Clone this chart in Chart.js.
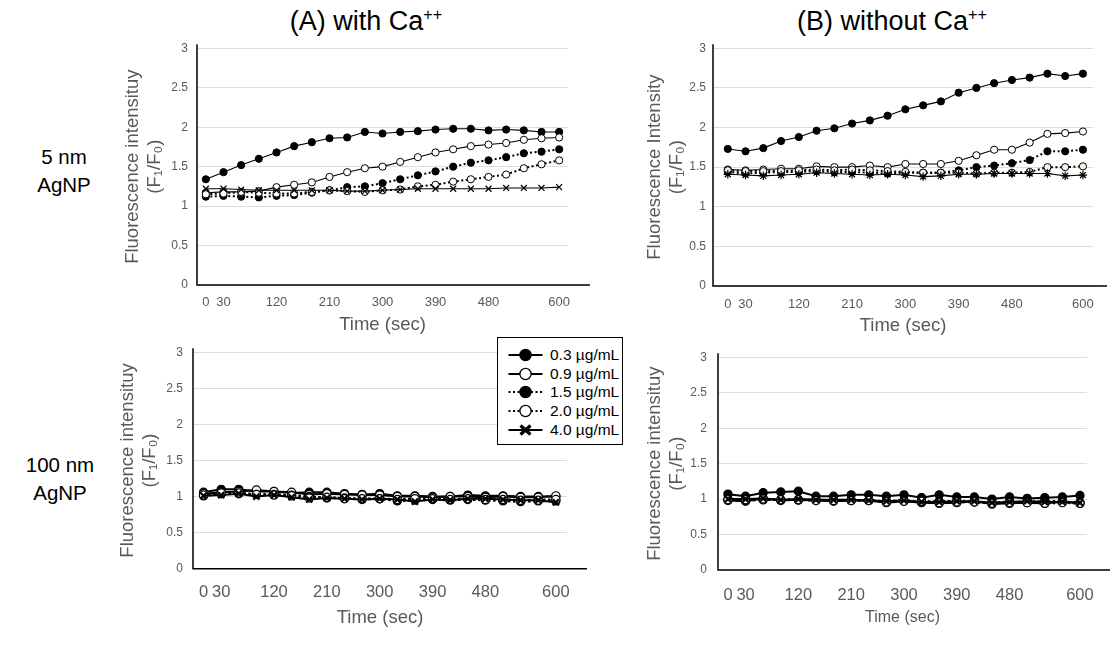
<!DOCTYPE html>
<html><head><meta charset="utf-8">
<script src="https://cdn.jsdelivr.net/npm/chart.js@4.4.1/dist/chart.umd.min.js"></script>
<style>
body{margin:0;background:#fff;width:1112px;height:645px;overflow:hidden;position:relative;font-family:"Liberation Sans",Arial,sans-serif;}
.ptitle{position:absolute;font-size:27px;color:#000;transform:translateX(-50%);white-space:nowrap;line-height:27px;}
.ptitle sup{font-size:60%;line-height:0;vertical-align:super;}
.rowlab{position:absolute;font-size:20.5px;color:#000;text-align:center;line-height:28px;width:120px;}
canvas{position:absolute;}
#legend{position:absolute;left:497px;top:337px;width:126px;height:108px;border:1px solid #000;background:#fff;box-sizing:border-box;}
.lrow{position:absolute;left:0;height:18px;}
.lrow svg{position:absolute;left:10px;top:0;}
.lrow span{position:absolute;left:52px;top:0;font-size:15.5px;line-height:18px;color:#000;white-space:nowrap;}
</style></head>
<body>
<div class="ptitle" style="left:366px;top:8px;">(A) with Ca<sup>++</sup></div>
<div class="ptitle" style="left:892px;top:8px;">(B) without Ca<sup>++</sup></div>
<div class="rowlab" style="left:4px;top:143px;">5 nm<br>AgNP</div>
<div class="rowlab" style="left:0px;top:451px;">100 nm<br>AgNP</div>
<canvas id="cA"></canvas>
<canvas id="cB"></canvas>
<canvas id="cC"></canvas>
<canvas id="cD"></canvas>
<div id="legend"></div>
<script>
// ---- data ----
const times = [0,30,60,90,120,150,180,210,240,270,300,330,360,390,420,450,480,510,540,570,600];
const xTicks = [0,30,120,210,300,390,480,600];
const xTickLabels = ['0','30','120','210','300','390','480','600'];
const yTicks = [0,0.5,1,1.5,2,2.5,3];
const yTickLabels = ['0','0.5','1','1.5','2','2.5','3'];
const seriesNames = ['0.3 \u00b5g/mL','0.9 \u00b5g/mL','1.5 \u00b5g/mL','2.0 \u00b5g/mL','4.0 \u00b5g/mL'];

// (A) with Ca++, 5 nm
const a03 = [1.34,1.43,1.52,1.60,1.68,1.76,1.81,1.86,1.87,1.94,1.92,1.94,1.95,1.97,1.98,1.98,1.96,1.97,1.96,1.94,1.94];
const a09 = [1.17,1.18,1.18,1.19,1.24,1.27,1.30,1.37,1.43,1.48,1.50,1.56,1.62,1.68,1.72,1.76,1.78,1.80,1.84,1.86,1.87];
const a15 = [1.12,1.13,1.12,1.11,1.13,1.14,1.17,1.20,1.24,1.25,1.29,1.34,1.39,1.44,1.50,1.55,1.58,1.62,1.67,1.69,1.72];
const a20 = [1.15,1.16,1.18,1.17,1.16,1.16,1.18,1.20,1.19,1.18,1.20,1.21,1.25,1.27,1.31,1.34,1.37,1.40,1.48,1.53,1.58];
const a40 = [1.22,1.22,1.21,1.20,1.20,1.20,1.20,1.20,1.19,1.19,1.20,1.21,1.22,1.22,1.22,1.22,1.22,1.23,1.23,1.23,1.24];
// (B) without Ca++, 5 nm
const b03 = [1.73,1.70,1.74,1.83,1.88,1.96,1.99,2.05,2.09,2.15,2.23,2.28,2.33,2.44,2.50,2.56,2.60,2.63,2.68,2.65,2.68];
const b09 = [1.47,1.46,1.47,1.48,1.48,1.51,1.50,1.50,1.52,1.50,1.54,1.54,1.54,1.58,1.65,1.72,1.72,1.81,1.92,1.93,1.95];
const b15 = [1.44,1.42,1.43,1.44,1.44,1.45,1.44,1.44,1.43,1.42,1.43,1.43,1.43,1.46,1.50,1.52,1.55,1.59,1.70,1.70,1.72];
const b20 = [1.46,1.45,1.45,1.45,1.46,1.47,1.46,1.47,1.46,1.45,1.44,1.43,1.43,1.43,1.42,1.43,1.43,1.44,1.50,1.50,1.51];
const b40 = [1.41,1.40,1.39,1.40,1.41,1.43,1.42,1.41,1.40,1.41,1.40,1.38,1.39,1.41,1.41,1.42,1.42,1.42,1.42,1.39,1.40];
// (A) with Ca++, 100 nm
const c03 = [1.06,1.10,1.10,1.07,1.07,1.05,1.06,1.06,1.04,1.03,1.04,1.01,1.01,1.00,1.00,1.02,1.01,1.01,1.00,1.00,1.00];
const c09 = [1.04,1.06,1.07,1.09,1.07,1.06,1.03,1.04,1.03,1.02,1.02,1.00,1.00,0.99,1.00,1.00,0.99,1.00,0.99,0.99,1.01];
const c15 = [1.01,1.04,1.04,1.03,1.03,1.02,1.00,0.98,0.98,0.96,0.97,0.94,0.95,0.96,0.95,0.96,0.95,0.94,0.93,0.94,0.94];
const c20 = [1.02,1.05,1.05,1.03,1.02,1.01,0.98,0.99,0.97,0.97,0.97,0.96,0.97,0.97,0.96,0.97,0.96,0.96,0.95,0.95,0.96];
const c40 = [1.01,1.02,1.04,1.00,1.02,0.99,0.96,0.98,0.97,0.96,0.97,0.96,0.93,0.96,0.95,0.97,0.97,0.96,0.95,0.95,0.92];
// (B) without Ca++, 100 nm
const d03 = [1.07,1.04,1.09,1.10,1.11,1.04,1.04,1.06,1.06,1.04,1.06,1.02,1.06,1.03,1.03,1.00,1.03,1.01,1.02,1.03,1.05];
const d09 = [0.98,0.97,1.01,0.98,0.99,0.98,0.97,0.98,0.98,0.95,0.97,0.95,0.94,0.95,0.97,0.93,0.94,0.95,0.94,0.96,0.95];
const d15 = [1.00,0.98,0.99,0.99,0.99,0.99,0.98,0.98,0.98,0.97,0.98,0.96,0.97,0.97,0.96,0.95,0.96,0.96,0.97,0.97,0.94];
const d20 = [0.99,0.99,1.00,0.99,0.99,0.98,0.98,0.98,0.98,0.96,0.97,0.97,0.95,0.96,0.96,0.94,0.95,0.95,0.94,0.95,0.94];
const d40 = [1.00,1.00,1.01,0.99,1.00,0.99,0.99,0.99,0.98,0.97,0.98,0.96,0.96,0.97,0.97,0.95,0.96,0.97,0.96,0.96,0.95];

// ---- layout / style ----
const FONT = '"Liberation Sans", Arial, sans-serif';
const GREY = '#595959';
const styleTop = {lineW:1.1, dotW:2, dash:[2,2.5], r:3.6, pbw:1, xw:1.2, xr:4.2};
const styleBot = {lineW:2, dotW:2.5, dash:[2.5,2.5], r:4.1, pbw:1.2, xw:2.2, xr:4.3};
const panels = [
  {id:'cA', L:197, R:568, T:48.3, B:285, xmin:-15, xmax:615, yTitleX:133, xTitleY:325, xTickY:302, xTickFont:13, xTitleFont:18.5, yTickPad:9, ext:22, st:styleTop, cross:'crossRot',
   yTitle:['Fluorescence intensituy','(F\u2081/F\u2080)'], series:[a03,a09,a15,a20,a40], fill20:'#ffffff'},
  {id:'cB', L:713, R:1093, T:48.3, B:286, xmin:-25, xmax:617, yTitleX:655, xTitleY:326, xTickY:304, xTickFont:13, xTitleFont:18.5, yTickPad:7, ext:14, st:styleTop, cross:'star',
   yTitle:['Fluorescence Intensity','(F\u2081/F\u2080)'], series:[b03,b09,b15,b20,b40], fill20:'#f6f6e2'},
  {id:'cC', L:193, R:567, T:352.3, B:568.7, xmin:-18, xmax:619, yTitleX:128, xTitleY:618, xTickY:592, xTickFont:16.5, xTitleFont:18.5, yTickPad:10, ext:20, st:styleBot, cross:'crossRot',
   yTitle:['Fluorescence intensituy','(F\u2081/F\u2080)'], series:[c03,c09,c15,c20,c40], fill20:'#ffffff'},
  {id:'cD', L:718, R:1087, T:357.3, B:570, xmin:-17, xmax:612, yTitleX:655, xTitleY:618, xTickY:595, xTickFont:16.5, xTitleFont:16, yTickPad:11, ext:23, st:styleBot, cross:'crossRot',
   yTitle:['Fluorescence intensituy','(F\u2081/F\u2080)'], series:[d03,d09,d15,d20,d40], fill20:'#ffffff'}
];

const axisPlugin = {
  id:'axisLines',
  afterDatasetsDraw(chart){
    const o = chart.options.plugins.axisLines;
    const {ctx, chartArea:a} = chart;
    ctx.save();
    ctx.strokeStyle = '#000';
    ctx.lineWidth = 1.5;
    ctx.beginPath();
    ctx.moveTo(a.left, a.top - 4);
    ctx.lineTo(a.left, a.bottom);
    ctx.lineTo(a.right + o.ext, a.bottom);
    ctx.stroke();
    ctx.restore();
  }
};

function build(p){
  const st = p.st;
  const TLH = 22;
  const xTitleLH = p.xTitleFont * 1.2;
  const H = p.xTitleY - p.B + 4 + xTitleLH / 2;
  const boxLeft = p.yTitleX - 4 - TLH / 2;
  const left = Math.floor(boxLeft);
  const topPx = Math.floor(p.T - 12);
  const right = Math.ceil(p.R + p.ext + 4);
  const bottom = Math.ceil(p.B + H + 1);
  const cw = right - left, ch = bottom - topPx;
  const W = p.L - boxLeft;
  const cv = document.getElementById(p.id);
  cv.width = cw; cv.height = ch;
  cv.style.left = left + 'px'; cv.style.top = topPx + 'px';
  cv.style.width = cw + 'px'; cv.style.height = ch + 'px';

  const kinds = [
    {dash:[], w:st.lineW, style:'circle', bg:'#000'},
    {dash:[], w:st.lineW, style:'circle', bg:'#fff'},
    {dash:st.dash, w:st.dotW, style:'circle', bg:'#000'},
    {dash:st.dash, w:st.dotW, style:'circle', bg:p.fill20},
    {dash:[], w:st.lineW, style:p.cross, bg:'#000'}
  ];
  const datasets = p.series.map((vals, i) => {
    const k = kinds[i];
    const isX = (i === 4);
    return {
      label: seriesNames[i],
      data: vals.map((v, j) => ({x: times[j], y: v})),
      borderColor: '#000',
      borderWidth: k.w,
      borderDash: k.dash,
      pointStyle: k.style,
      pointRadius: isX ? st.xr : st.r,
      pointBackgroundColor: k.bg,
      pointBorderColor: '#000',
      pointBorderWidth: isX ? st.xw : st.pbw,
      fill: false,
      tension: 0,
      order: 4 - i
    };
  });

  new Chart(cv, {
    type: 'line',
    data: {datasets},
    plugins: [axisPlugin],
    options: {
      responsive: false,
      animation: false,
      devicePixelRatio: 1,
      layout: {padding: {left: boxLeft - left, top: p.T - topPx, right: right - p.R, bottom: bottom - (p.B + H)}},
      plugins: {legend: {display: false}, tooltip: {enabled: false}, axisLines: {ext: p.ext}},
      scales: {
        x: {
          type: 'linear', min: p.xmin, max: p.xmax,
          grid: {display: false, drawTicks: false, tickLength: 0},
          border: {display: false},
          afterBuildTicks: s => { s.ticks = xTicks.map(v => ({value: v})); },
          afterFit: s => { s.height = H; s.paddingLeft = 0; s.paddingRight = 0; },
          ticks: {
            autoSkip: false, maxRotation: 0, minRotation: 0,
            padding: p.xTickY - p.B - p.xTickFont * 1.2 / 2,
            color: GREY, font: {family: FONT, size: p.xTickFont},
            callback: (v, i) => xTickLabels[i]
          },
          title: {display: true, text: 'Time (sec)', color: GREY, font: {family: FONT, size: p.xTitleFont}, padding: {top: 0, bottom: 4}}
        },
        y: {
          min: 0, max: 3,
          grid: {color: '#dcdcdc', lineWidth: 1, drawTicks: false, tickLength: 0},
          border: {display: false},
          afterBuildTicks: s => { s.ticks = yTicks.map(v => ({value: v})); },
          afterFit: s => { s.width = W; s.paddingTop = 0; s.paddingBottom = 0; },
          ticks: {
            padding: p.yTickPad, color: GREY, font: {family: FONT, size: 12},
            callback: (v, i) => yTickLabels[i]
          },
          title: {display: true, text: p.yTitle, color: GREY, font: {family: FONT, size: 18.5, lineHeight: '22px'}, padding: {top: 4, bottom: 4}}
        }
      }
    }
  });
}
panels.forEach(build);

// ---- legend ----
const leg = document.getElementById('legend');
const legendKinds = [
  {dash:'', fill:'#000', x:false},
  {dash:'', fill:'#fff', x:false},
  {dash:'2,2.5', fill:'#000', x:false},
  {dash:'2,2.5', fill:'#fff', x:false},
  {dash:'', fill:'#000', x:true}
];
const rowTops = [8, 27, 45, 64, 83];
seriesNames.forEach((name, i) => {
  const k = legendKinds[i];
  const row = document.createElement('div');
  row.className = 'lrow';
  row.style.top = rowTops[i] + 'px';
  const marker = k.x
    ? '<path d="M12.5,4.5 L22.5,13.5 M22.5,4.5 L12.5,13.5" stroke="#000" stroke-width="3.2"/>'
    : '<circle cx="17.5" cy="9" r="5.6" fill="' + k.fill + '" stroke="#000" stroke-width="1.3"/>';
  row.innerHTML = '<svg width="36" height="18" viewBox="0 0 36 18">' +
    '<line x1="0.5" y1="9" x2="34.5" y2="9" stroke="#000" stroke-width="' + (k.dash ? 2.2 : 2) + '"' + (k.dash ? ' stroke-dasharray="' + k.dash + '"' : '') + '/>' +
    marker + '</svg><span>' + name + '</span>';
  leg.appendChild(row);
});
</script>
</body></html>
